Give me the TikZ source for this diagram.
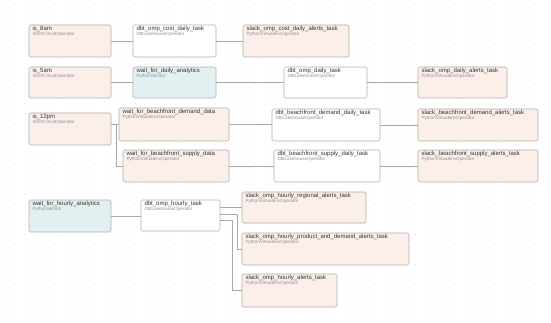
\documentclass[tikz,border=0pt]{standalone}
\usepackage{fontspec}
\setmainfont{Liberation Sans}
\definecolor{pinkc}{HTML}{FCEFE9}
\definecolor{bluec}{HTML}{E3F0F2}
\definecolor{edgec}{HTML}{B0B0B0}
\definecolor{linec}{HTML}{A8A8A8}
\definecolor{namec}{HTML}{333333}
\definecolor{opc}{HTML}{8A909C}
\definecolor{dotc}{HTML}{C8C8C8}
\newcommand{\tbox}[4]{\parbox[c][#2pt][t]{#1pt}{\leftskip=3.5pt\rightskip=0pt plus 1fil\vspace*{1.5pt}%
{\fontsize{6}{7}\selectfont\color{namec}#3\par}\vspace*{-0.5pt}%
{\fontsize{4.6}{5.6}\selectfont\color{opc}#4\par}}}
\tikzset{
  taskbox/.style={draw=edgec, line width=0.6pt, rounded corners=1.5pt, inner sep=0pt, outer sep=0pt, anchor=north west},
  pinkbox/.style={taskbox, fill=pinkc},
  whitebox/.style={taskbox, fill=white},
  bluebox/.style={taskbox, fill=bluec},
  conn/.style={draw=linec, line width=0.7pt}
}
\begin{document}
\begin{tikzpicture}[x=1pt,y=1pt]
\useasboundingbox (0,0) rectangle (551,-323);
\fill[white] (0,0) rectangle (551,-323);
\foreach \i in {0,...,54}{\foreach \j in {0,...,32}{\fill[dotc] (\i*10+5,-\j*10-4) circle (0.5);}}
% row 1
\node[pinkbox] (is8) at (29,-25) {\tbox{82}{32}{is\_8am}{ShortCircuitOperator}};
\node[whitebox] (dbtcost) at (133,-25) {\tbox{83}{32}{dbt\_omp\_cost\_daily\_task}{DbtLakehouseOperator}};
\node[pinkbox] (slackcost) at (243,-25) {\tbox{106}{32}{slack\_omp\_cost\_daily\_alerts\_task}{PythonVirtualenvOperator}};
% row 2
\node[pinkbox] (is5) at (29,-67) {\tbox{82}{31}{is\_5am}{ShortCircuitOperator}};
\node[bluebox] (waitdaily) at (133,-67) {\tbox{83}{31}{wait\_for\_daily\_analytics}{PythonSensor}};
\node[whitebox] (dbtdaily) at (284,-67) {\tbox{83}{31}{dbt\_omp\_daily\_task}{DbtLakehouseOperator}};
\node[pinkbox] (slackdaily) at (418,-67) {\tbox{89}{31}{slack\_omp\_daily\_alerts\_task}{PythonVirtualenvOperator}};
% rows 3-4
\node[pinkbox] (is12) at (29,-113) {\tbox{82}{32}{is\_12pm}{ShortCircuitOperator}};
\node[pinkbox] (waitdemand) at (119,-108) {\tbox{110}{33}{wait\_for\_beachfront\_demand\_data}{PythonVirtualenvOperator}};
\node[pinkbox] (waitsupply) at (123,-150) {\tbox{106}{32}{wait\_for\_beachfront\_supply\_data}{PythonVirtualenvOperator}};
\node[whitebox] (dbtdemand) at (272,-109) {\tbox{108}{32}{dbt\_beachfront\_demand\_daily\_task}{DbtLakehouseOperator}};
\node[whitebox] (dbtsupply) at (274,-150) {\tbox{106}{32}{dbt\_beachfront\_supply\_daily\_task}{DbtLakehouseOperator}};
\node[pinkbox] (slackdemand) at (418,-109) {\tbox{120}{32}{slack\_beachfront\_demand\_alerts\_task}{PythonVirtualenvOperator}};
\node[pinkbox] (slacksupply) at (418,-150) {\tbox{120}{32}{slack\_beachfront\_supply\_alerts\_task}{PythonVirtualenvOperator}};
% hourly
\node[bluebox] (waithourly) at (29,-200) {\tbox{82}{32}{wait\_for\_hourly\_analytics}{PythonSensor}};
\node[whitebox] (dbthourly) at (141,-200) {\tbox{79}{31}{dbt\_omp\_hourly\_task}{DbtLakehouseOperator}};
\node[pinkbox] (slackregional) at (242,-192) {\tbox{124}{31}{slack\_omp\_hourly\_regional\_alerts\_task}{PythonVirtualenvOperator}};
\node[pinkbox] (slackproduct) at (242,-233) {\tbox{167}{32}{slack\_omp\_hourly\_product\_and\_demand\_alerts\_task}{PythonVirtualenvOperator}};
\node[pinkbox] (slackhourly) at (242,-274) {\tbox{95}{33}{slack\_omp\_hourly\_alerts\_task}{PythonVirtualenvOperator}};
% connectors
\draw[conn] (is8.east) -- (is8.east -| dbtcost.west);
\draw[conn] (dbtcost.east) -- (dbtcost.east -| slackcost.west);
\draw[conn] (is5.east) -- (is5.east -| waitdaily.west);
\draw[conn] (waitdaily.east) -- (waitdaily.east -| dbtdaily.west);
\draw[conn] (dbtdaily.east) -- (dbtdaily.east -| slackdaily.west);
\coordinate (d0) at (is12.east |- waitdemand.west);
\draw[conn] (d0) -- (waitdemand.west);
\draw[conn] (d0) -- ++(5,0) |- (waitsupply.west);
\draw[conn] (waitdemand.east) -- (waitdemand.east -| dbtdemand.west);
\draw[conn] (dbtdemand.east) -- (dbtdemand.east -| slackdemand.west);
\draw[conn] (waitsupply.east) -- (waitsupply.east -| dbtsupply.west);
\draw[conn] (dbtsupply.east) -- (dbtsupply.east -| slacksupply.west);
\draw[conn] (waithourly.east) -- (waithourly.east -| dbthourly.west);
\coordinate (h1) at ([yshift=8pt]dbthourly.east);
\coordinate (h2) at ([yshift=1.5pt]dbthourly.east);
\coordinate (h3) at ([yshift=-5pt]dbthourly.east);
\draw[conn] (h1) -- (h1 -| slackregional.west);
\draw[conn] (h2) -- ++(17,0) |- (slackproduct.west);
\draw[conn] (h3) -- ++(12,0) |- (slackhourly.west);
\end{tikzpicture}
\end{document}
